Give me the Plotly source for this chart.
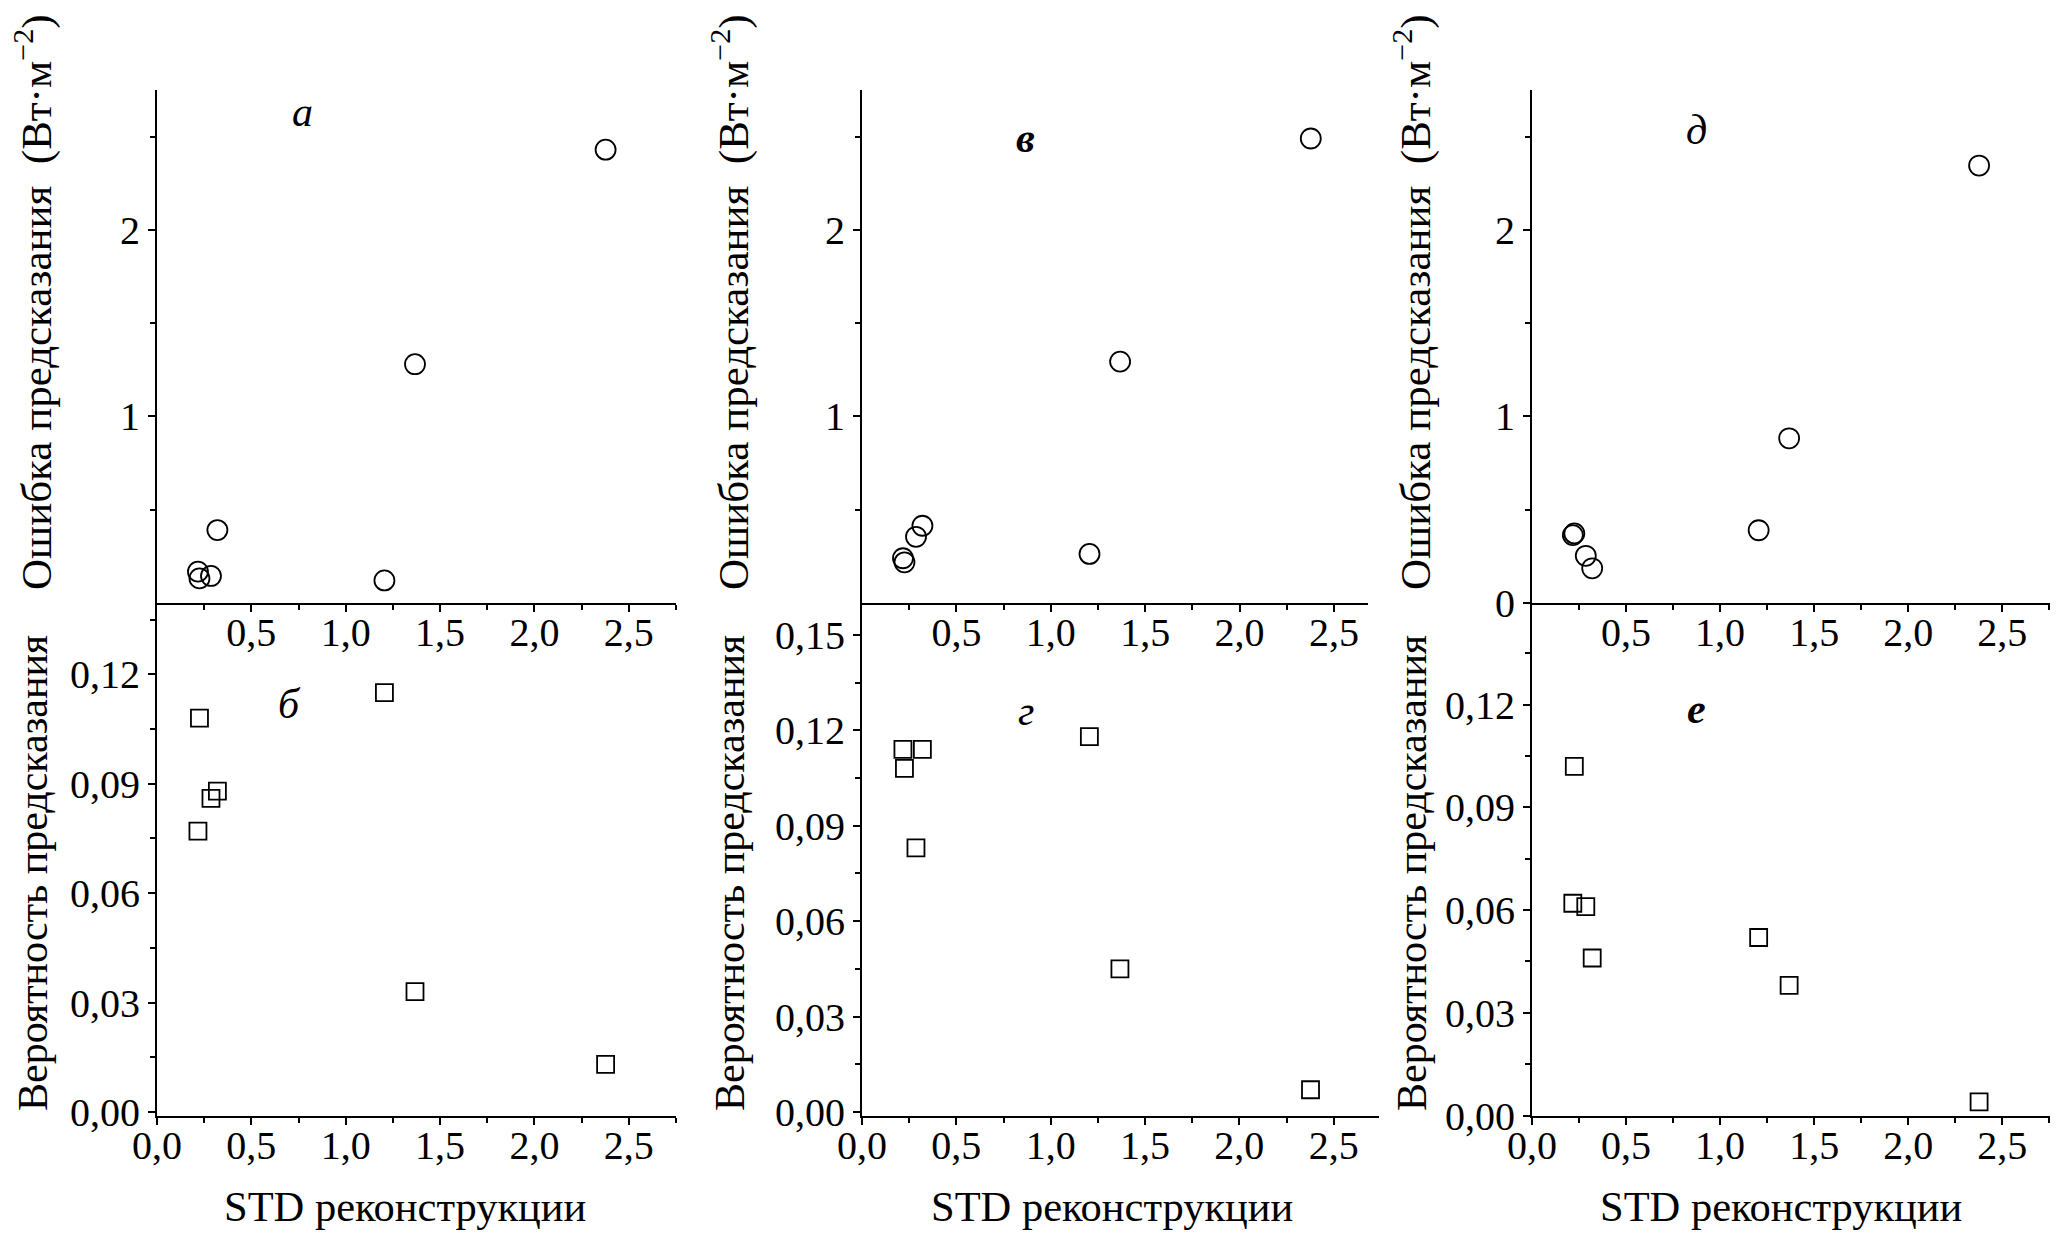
import plotly.graph_objects as go

# ---------------- data ----------------
std_x = [0.217, 0.225, 0.286, 0.320, 1.205, 1.367, 2.377]

err_a = [0.168, 0.132, 0.145, 0.391, 0.121, 1.280, 2.430]
prob_b = [0.077, 0.108, 0.086, 0.088, 0.115, 0.033, 0.013]
err_v = [0.240, 0.218, 0.355, 0.414, 0.263, 1.294, 2.490]
prob_g = [0.114, 0.108, 0.083, 0.114, 0.118, 0.045, 0.007]
err_d = [0.364, 0.373, 0.253, 0.186, 0.390, 0.883, 2.345]
prob_e = [0.062, 0.102, 0.061, 0.046, 0.052, 0.038, 0.004]

panel_letters = ["а", "б", "в", "г", "д", "е"]

x_ticks_bottom = [0.0, 0.5, 1.0, 1.5, 2.0, 2.5]
x_labels_bottom = ["0,0", "0,5", "1,0", "1,5", "2,0", "2,5"]
x_ticks_top = [0.5, 1.0, 1.5, 2.0, 2.5]
x_labels_top = ["0,5", "1,0", "1,5", "2,0", "2,5"]
x_minor = [0.25, 0.75, 1.25, 1.75, 2.25, 2.75]

err_ticks_ab = [1, 2]
err_labels_ab = ["1", "2"]
err_ticks_d = [0, 1, 2]
err_labels_d = ["0", "1", "2"]
err_minor = [0.5, 1.5, 2.5]

prob_ticks_12 = [0.0, 0.03, 0.06, 0.09, 0.12]
prob_labels_12 = ["0,00", "0,03", "0,06", "0,09", "0,12"]
prob_ticks_15 = [0.0, 0.03, 0.06, 0.09, 0.12, 0.15]
prob_labels_15 = ["0,00", "0,03", "0,06", "0,09", "0,12", "0,15"]
prob_minor = [0.015, 0.045, 0.075, 0.105, 0.135]

title_err = "Ошибка предсказания  (Вт·м<sup>−2</sup>)"
title_prob = "Вероятность предсказания"
title_x = "STD реконструкции"

# ---------------- layout geometry ----------------
W, H = 2064, 1233
FONT = "Liberation Serif, Times New Roman, DejaVu Serif, serif"


def px(v):
    return v / W


def py(v):
    return 1 - v / H


top_dom = [py(603), py(90)]
bot_dom = [py(1115.5), py(603)]

fig = go.Figure()

series = [
    (err_a, "circle-open", 20, 1),
    (prob_b, "square-open", 17, 4),
    (err_v, "circle-open", 20, 2),
    (prob_g, "square-open", 17, 5),
    (err_d, "circle-open", 20, 3),
    (prob_e, "square-open", 17, 6),
]
for yv, sym, size, ax in series:
    fig.add_trace(go.Scatter(
        x=std_x, y=yv, mode="markers",
        marker=dict(symbol=sym, size=size, color="black", line=dict(width=1.8, color="black")),
        xaxis="x" if ax == 1 else f"x{ax}",
        yaxis="y" if ax == 1 else f"y{ax}",
        showlegend=False, cliponaxis=False,
    ))

tickfont = dict(family=FONT, size=40, color="black")


def axis_common():
    return dict(showline=True, linecolor="black", linewidth=2, ticks="outside",
                ticklen=7, tickwidth=2, tickcolor="black", showgrid=False,
                zeroline=False, tickfont=tickfont, fixedrange=True, automargin=False)


def xaxis(dom, rng, anchor, top):
    d = axis_common()
    d.update(domain=dom, range=rng, anchor=anchor,
             tickmode="array",
             tickvals=x_ticks_top if top else x_ticks_bottom,
             ticktext=x_labels_top if top else x_labels_bottom,
             ticklabelstandoff=-14,
             minor=dict(tickvals=x_minor, ticks="outside", ticklen=5, tickwidth=2, tickcolor="black"))
    return d


def yaxis(dom, rng, anchor, tv, tt, mv):
    d = axis_common()
    d.update(domain=dom, range=rng, anchor=anchor, tickmode="array",
             tickvals=tv, ticktext=tt,
             minor=dict(tickvals=mv, ticks="outside", ticklen=5, tickwidth=2, tickcolor="black"))
    return d


layout = dict(
    template="none",
    width=W, height=H, margin=dict(l=0, r=0, t=0, b=0, pad=0, autoexpand=False),
    paper_bgcolor="white", plot_bgcolor="white", showlegend=False,
    font=dict(family=FONT, color="black"),
)
layout["xaxis"] = xaxis([px(157), px(676)], [0, 2.75], "y", True)
layout["xaxis2"] = xaxis([px(862), px(1368)], [0, 2.68], "y2", True)
layout["xaxis3"] = xaxis([px(1532), px(2050)], [0, 2.754], "y3", True)
layout["xaxis4"] = xaxis([px(157), px(676)], [0, 2.75], "y4", False)
layout["xaxis5"] = xaxis([px(862), px(1379)], [0, 2.74], "y5", False)
layout["xaxis6"] = xaxis([px(1532), px(2050)], [0, 2.754], "y6", False)

layout["yaxis"] = yaxis(top_dom, [0, 2.75], "x", err_ticks_ab, err_labels_ab, err_minor)
layout["yaxis2"] = yaxis(top_dom, [0, 2.75], "x2", err_ticks_ab, err_labels_ab, err_minor)
layout["yaxis3"] = yaxis(top_dom, [0, 2.75], "x3", err_ticks_d, err_labels_d, err_minor)
layout["yaxis4"] = yaxis(bot_dom, [-0.001, 0.1396], "x4", prob_ticks_12, prob_labels_12, prob_minor)
layout["yaxis5"] = yaxis(bot_dom, [-0.0011, 0.16], "x5", prob_ticks_15, prob_labels_15, prob_minor)
layout["yaxis6"] = yaxis(bot_dom, [0, 0.1497], "x6", prob_ticks_12, prob_labels_12, prob_minor)

fig.update_layout(**layout)

annotations = []
ytitle_top_font = dict(family=FONT, size=43, color="black")
ytitle_font = dict(family=FONT, size=42, color="black")
xtitle_font = dict(family=FONT, size=42.5, color="black")
# y-axis titles
for cx in [33, 730, 1412]:
    annotations.append(dict(text=title_err, x=px(cx), y=py(302), xref="paper", yref="paper",
                            textangle=-90, showarrow=False, xanchor="center", yanchor="middle",
                            font=ytitle_top_font))
    annotations.append(dict(text=title_prob, x=px(cx), y=py(873), xref="paper", yref="paper",
                            textangle=-90, showarrow=False, xanchor="center", yanchor="middle",
                            font=ytitle_font))
# x-axis titles
for cx in [405, 1112, 1781]:
    annotations.append(dict(text=title_x, x=px(cx), y=py(1206), xref="paper", yref="paper",
                            showarrow=False, xanchor="center", yanchor="middle", font=xtitle_font))

# panel letters
letter_pos = [
    ("x", "y", 0.772, 2.607, False),
    ("x4", "y4", 0.701, 0.1105, False),
    ("x2", "y2", 0.868, 2.465, True),
    ("x5", "y5", 0.868, 0.1246, False),
    ("x3", "y3", 0.875, 2.51, False),
    ("x6", "y6", 0.875, 0.1173, True),
]
for letter, (xr, yr, lx, ly, bold) in zip(panel_letters, letter_pos):
    txt = f"<i><b>{letter}</b></i>" if bold else f"<i>{letter}</i>"
    annotations.append(dict(text=txt, x=lx, y=ly, xref=xr, yref=yr, showarrow=False,
                            xanchor="center", yanchor="middle", yshift=5,
                            font=dict(family=FONT, size=42, color="black")))

fig.update_layout(annotations=annotations)

fig.write_html("out.html", config={"displayModeBar": False},
               post_script="document.body.style.margin='0px';")
